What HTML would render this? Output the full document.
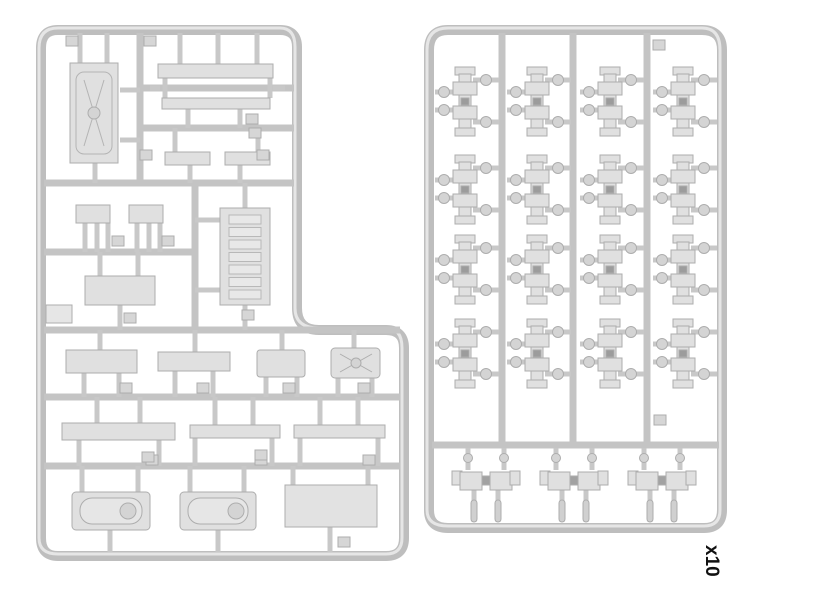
<!DOCTYPE html>
<html><head><meta charset="utf-8"><style>
html,body{margin:0;padding:0;background:#fff;width:820px;height:615px;overflow:hidden}
svg{display:block}
</style></head><body>
<svg id="s" width="820" height="615" viewBox="0 0 820 615" xmlns="http://www.w3.org/2000/svg">
<g fill="none" stroke="#bebebe" stroke-width="10" stroke-linejoin="round">
<path d="M58 30 H280 Q297 30 297 47 V308 Q297 330 319 330 H386 Q404 330 404 348 V538 Q404 556 386 556 H58 Q41 556 41 538 V48 Q41 30 58 30 Z"/>
<path d="M448 30 H702 Q722 30 722 50 V510 Q722 528 704 528 H448 Q429 528 429 510 V50 Q429 30 448 30 Z"/>
</g>
<g fill="none" stroke="#e6e6e6" stroke-width="3">
<path d="M58 28 H280 Q295 28 295 47 V308 Q295 328 319 328 H386 Q402 328 402 348 V538 Q402 554 386 554 H58 Q39 554 39 538 V48 Q39 28 58 28 Z"/>
<path d="M448 28 H702 Q720 28 720 50 V510 Q720 526 704 526 H448 Q427 526 427 510 V50 Q427 28 448 28 Z"/>
</g>
<g id="runners" stroke="#c4c4c4" stroke-width="7"></g>
<g id="parts" fill="#e0e0e0" stroke="#adadad" stroke-width="1"></g>
<text x="0" y="0" transform="translate(706,545) rotate(90)" font-family="'Liberation Sans', sans-serif" font-weight="bold" font-size="19" fill="#111">x10</text>
</svg>
<script>
var NS="http://www.w3.org/2000/svg";
function el(p,t,a){var e=document.createElementNS(NS,t);for(var k in a)e.setAttribute(k,a[k]);document.getElementById(p).appendChild(e);return e;}
function L(x1,y1,x2,y2){el('runners','line',{x1:x1,y1:y1,x2:x2,y2:y2});}
function R(x,y,w,h,f){el('parts','rect',{x:x,y:y,width:w,height:h,fill:f||'#e0e0e0'});}
function C(x,y,r){el('parts','circle',{cx:x,cy:y,r:r,fill:'#d4d4d4'});}
function G(x1,y1,x2,y2){el('parts','line',{x1:x1,y1:y1,x2:x2,y2:y2,stroke:'#c8c8c8','stroke-width':5});}
L(140,33,140,183);L(140,88,294,88);L(140,128,294,128);L(44,183,294,183);
L(195,183,195,327);L(44,252,195,252);L(44,330,400,330);L(44,397,400,397);L(44,466,400,466);
L(502,33,502,445);L(573,33,573,445);L(647,33,647,445);L(432,445,719,445);
[[80,33,80,63],[107,33,107,63],[95,163,95,183],[120,90,140,90],[120,140,140,140],
 [180,33,180,64],[218,33,218,64],[257,33,257,64],[165,78,165,98],[270,78,270,98],[150,88,160,88],[285,88,273,88],
 [188,109,188,128],[240,109,240,128],[175,128,175,152],[258,128,258,152],[190,165,190,183],[240,165,240,183],
 [85,223,85,252],[97,223,97,252],[108,223,108,252],[137,223,137,252],[149,223,149,252],[160,223,160,252],
 [100,252,100,276],[138,252,138,276],[120,305,120,330],[245,183,245,208],[195,220,220,220],[195,290,220,290],[245,305,245,330],
 [100,330,100,350],[195,330,195,352],[282,330,282,350],[354,330,354,348],
 [84,373,84,397],[119,373,119,397],[175,371,175,397],[213,371,213,397],[266,377,266,397],[297,377,297,397],[338,378,338,397],[372,378,372,397],
 [97,397,97,423],[140,397,140,423],[215,397,215,425],[253,397,253,425],[320,397,320,425],[358,397,358,425],
 [79,440,79,466],[159,440,159,466],[195,438,195,466],[272,438,272,466],[300,438,300,466],[378,438,378,466],
 [82,466,82,492],[138,466,138,492],[190,466,190,492],[244,466,244,492],[293,466,293,485],[368,466,368,485],
 [110,530,110,552],[218,530,218,552],[330,527,330,552]
].forEach(function(g){G(g[0],g[1],g[2],g[3]);});
R(70,63,48,100);
el('parts','rect',{x:76,y:72,width:36,height:82,rx:8,fill:'none',stroke:'#b4b4b4'});
el('parts','path',{d:'M84 80 L104 146 M104 80 L84 146',stroke:'#b4b4b4',fill:'none'});
C(94,113,6);
R(158,64,115,14);R(162,98,108,11);R(165,152,45,13);R(225,152,45,13);
R(76,205,34,18);R(129,205,34,18);R(85,276,70,29);
R(220,208,50,97);
for(var i=0;i<7;i++)el('parts','rect',{x:229,y:215+i*12.5,width:32,height:9,fill:'#e8e8e8',stroke:'#b8b8b8'});
R(46,305,26,18,'#e6e6e6');
R(66,350,71,23);R(158,352,72,19);el('parts','rect',{x:257,y:350,width:48,height:27,rx:3});
el('parts','rect',{x:331,y:348,width:49,height:30,rx:4});
el('parts','path',{d:'M340 354 L372 372 M372 354 L340 372',stroke:'#adadad',fill:'none'});C(356,363,5);
R(62,423,113,17);R(190,425,90,13);R(294,425,91,13);
el('parts','rect',{x:72,y:492,width:78,height:38,rx:4});el('parts','rect',{x:80,y:498,width:62,height:26,rx:12,fill:'#e6e6e6'});C(128,511,8);
el('parts','rect',{x:180,y:492,width:76,height:38,rx:4});el('parts','rect',{x:188,y:498,width:60,height:26,rx:12,fill:'#e6e6e6'});C(236,511,8);
R(285,485,92,42,'#e2e2e2');
[[66,36],[144,36],[246,114],[249,128],[140,150],[257,150],[112,236],[162,236],[124,313],[242,310],[120,383],[197,383],[283,383],[358,383],[146,455],[255,455],[363,455],[142,452],[255,450],[338,537],[653,40],[654,415]].forEach(function(t){R(t[0],t[1],12,10,'#d6d6d6');});
var cols=[465,537,610,683],rows=[100,188,268,352];
cols.forEach(function(cx){rows.forEach(function(cy){
 G(cx-30,cy-8,cx-8,cy-8);G(cx-30,cy+10,cx-8,cy+10);G(cx+8,cy-20,cx+34,cy-20);G(cx+8,cy+22,cx+34,cy+22);
 C(cx-21,cy-8,5.5);C(cx-21,cy+10,5.5);C(cx+21,cy-20,5.5);C(cx+21,cy+22,5.5);
 R(cx-10,cy-33,20,8);R(cx-6,cy-26,12,56);R(cx-12,cy-18,24,13);R(cx-12,cy+6,24,13);R(cx-10,cy+28,20,8);
 R(cx-4,cy-2,8,7,'#9c9c9c');
});});
[486,574,662].forEach(function(cx){
 G(cx-18,448,cx-18,470);G(cx+18,448,cx+18,470);C(cx-18,458,4.5);C(cx+18,458,4.5);
 G(cx-12,490,cx-12,522);G(cx+12,490,cx+12,522);
 el('parts','rect',{x:cx-15,y:500,width:6,height:22,rx:3,fill:'#d0d0d0'});el('parts','rect',{x:cx+9,y:500,width:6,height:22,rx:3,fill:'#d0d0d0'});
 R(cx-34,471,10,14);R(cx-26,472,22,18);R(cx+4,472,22,18);R(cx+24,471,10,14);R(cx-4,476,8,9,'#a2a2a2');
});
</script>
</body></html>
